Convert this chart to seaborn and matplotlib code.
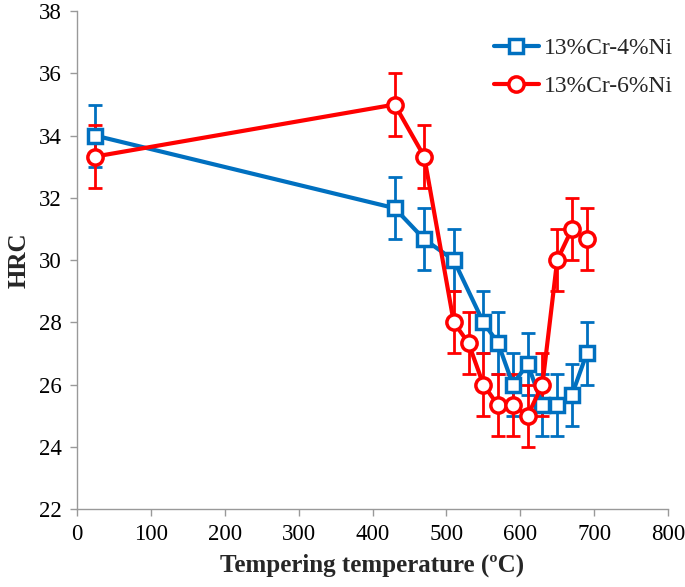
import numpy as np
import pandas as pd
import seaborn as sns
import matplotlib.pyplot as plt

sns.set_style("white")
plt.rcParams['font.family'] = ['Liberation Serif', 'DejaVu Serif']

# data
temp_4ni = [25, 430, 470, 510, 550, 570, 590, 610, 630, 650, 670, 690]
hrc_4ni = [34.0, 31.67, 30.67, 30.0, 28.0, 27.33, 26.0, 26.67, 25.33, 25.33, 25.67, 27.0]
err_4ni = [1.0] * 12

temp_6ni = [25, 430, 470, 510, 530, 550, 570, 590, 610, 630, 650, 670, 690]
hrc_6ni = [33.33, 35.0, 33.33, 28.0, 27.33, 26.0, 25.33, 25.33, 25.0, 26.0, 30.0, 31.0, 30.67]
err_6ni = [1.0] * 13

series = [
    ("13%Cr-4%Ni", temp_4ni, hrc_4ni, err_4ni, "#0070C0", "s", 10),
    ("13%Cr-6%Ni", temp_6ni, hrc_6ni, err_6ni, "#FF0000", "o", 11),
]

fig = plt.figure(figsize=(6.85, 5.87), dpi=100)
ax = fig.add_axes([0.1124, 0.1329, 0.8628, 0.848])

for name, x, y, e, col, mk, ms in series:
    ax.errorbar(x, y, yerr=e, fmt='none', ecolor=col, elinewidth=2,
                capsize=5, capthick=2, zorder=2)
    df = pd.DataFrame({"T": x, "HRC": y})
    sns.lineplot(data=df, x="T", y="HRC", ax=ax, color=col, lw=3,
                 marker=mk, markersize=ms, markerfacecolor="white",
                 markeredgecolor=col, markeredgewidth=2.5, label=name, zorder=3)

ax.set_xlim(0, 800)
ax.set_ylim(22, 38)
ax.set_xticks(np.arange(0, 801, 100))
ax.set_yticks(np.arange(22, 39, 2))
ax.tick_params(axis='both', labelsize=16.5, direction='out', length=5,
               color='#999999', width=1, pad=6, labelcolor='black')
ax.tick_params(axis='x', bottom=True)
ax.tick_params(axis='y', left=True)
for s in ['top', 'right']:
    ax.spines[s].set_visible(False)
for s in ['left', 'bottom']:
    ax.spines[s].set_color('#999999')
    ax.spines[s].set_linewidth(1)

ax.set_xlabel("Tempering temperature (ºC)", fontsize=18, fontweight='bold', labelpad=6)
ax.set_ylabel("HRC", fontsize=18, fontweight='bold', labelpad=6)

ax.legend(loc='upper right', bbox_to_anchor=(1.044, 0.99), frameon=False,
          fontsize=17, handlelength=1.9, handletextpad=0.2, labelspacing=0.7)

fig.savefig("out.png", dpi=100)
